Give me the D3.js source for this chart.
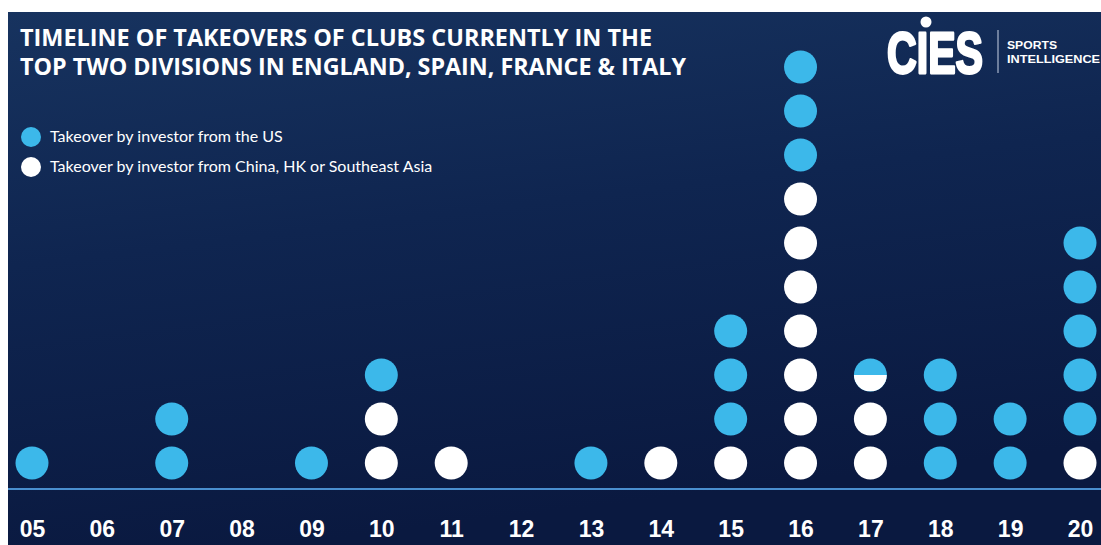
<!DOCTYPE html>
<html><head><meta charset="utf-8">
<script src="https://cdn.jsdelivr.net/npm/d3@7"></script>
<style>html,body{margin:0;padding:0;background:#fff;}svg{display:block;}</style>
</head><body>
<svg id="c" width="1101" height="545"></svg>
<script>
// ---- data ----
const years = ["05","06","07","08","09","10","11","12","13","14","15","16","17","18","19","20"];
const usCounts   = [1,0,2,0,1,1,0,0,1,0,3,3,0.5,3,2,5];
const asiaCounts = [0,0,0,0,0,2,1,0,0,1,1,7,2.5,0,0,1];
const legendLabels = ["Takeover by investor from the US","Takeover by investor from China, HK or Southeast Asia"];
const titleLines = ["TIMELINE OF TAKEOVERS OF CLUBS CURRENTLY IN THE","TOP TWO DIVISIONS IN ENGLAND, SPAIN, FRANCE & ITALY"];

const BLUE = "#3cb8ea", WHITE = "#ffffff";
const svg = d3.select("#c");
const W = 1101, H = 545;

const defs = svg.append("defs");
const g = defs.append("linearGradient").attr("id","bg").attr("x1",0).attr("y1",0).attr("x2",0.25).attr("y2",1);
g.append("stop").attr("offset","0%").attr("stop-color","#17335f");
g.append("stop").attr("offset","45%").attr("stop-color","#0f2550");
g.append("stop").attr("offset","100%").attr("stop-color","#0a1940");
svg.append("rect").attr("x",8).attr("y",12).attr("width",W-8).attr("height",H-12).attr("fill","url(#bg)");

// title
svg.selectAll("text.title").data(titleLines).join("text")
  .attr("class","title")
  .attr("x",20).attr("y",(d,i)=>46+i*29)
  .attr("fill","#fff")
  .attr("font-family","'Open Sans', sans-serif")
  .attr("font-weight",700)
  .attr("font-size",23)
  .attr("textLength",(d,i)=>i===0?632:666)
  .attr("lengthAdjust","spacingAndGlyphs")
  .text(d=>d);

// logo
const logo = svg.append("g");
logo.append("text").attr("transform","translate(887,73) scale(1,1.38)")
  .attr("x",0).attr("y",0).attr("fill","#fff")
  .attr("stroke","#fff").attr("stroke-width",2).attr("stroke-linejoin","round")
  .attr("font-family","'Liberation Sans',Arial,sans-serif")
  .attr("font-weight",700).attr("font-size",41)
  .attr("textLength",96).attr("lengthAdjust","spacingAndGlyphs").text("CIES");
logo.append("circle").attr("cx",926).attr("cy",22).attr("r",5.5).attr("fill","#fff");
logo.append("line").attr("x1",998).attr("x2",998).attr("y1",30).attr("y2",73)
  .attr("stroke","#c8d2e4").attr("stroke-width",1);
logo.selectAll("text.si").data(["SPORTS","INTELLIGENCE"]).join("text")
  .attr("class","si").attr("x",1007).attr("y",(d,i)=>49+i*14)
  .attr("fill","#fff").attr("font-family","'Liberation Sans',Arial,sans-serif").attr("font-weight",700)
  .attr("font-size",11)
  .attr("textLength",(d,i)=>i===0?50:93).attr("lengthAdjust","spacingAndGlyphs")
  .text(d=>d);

// legend
const leg = svg.append("g");
legendLabels.forEach((t,i)=>{
  leg.append("circle").attr("cx",31).attr("cy",137+i*30).attr("r",10).attr("fill",i===0?BLUE:WHITE);
  leg.append("text").attr("x",50).attr("y",142+i*30).attr("fill","#fff")
    .attr("font-family","Lato, sans-serif").attr("font-size",16).text(t);
});

// scales
const x = d3.scalePoint().domain(years).range([32,1080]);
const y = d3.scaleLinear().domain([0,1]).range([463,419]);
const R = 16.5;

// axis line
svg.append("line").attr("x1",8).attr("x2",W).attr("y1",489).attr("y2",489)
  .attr("stroke","#4a8fcf").attr("stroke-width",2);

// x labels via axis
const axis = d3.axisBottom(x).tickSize(0).tickPadding(0);
const ax = svg.append("g").attr("transform","translate(0,520)").call(axis);
ax.select(".domain").remove();
ax.selectAll("text").attr("fill","#fff").attr("font-family","'Liberation Sans', Arial, sans-serif")
  .attr("font-weight",700).attr("font-size",23).attr("dy","0.72em");

// dots
const slots = [];
years.forEach((yr,i)=>{
  const total = usCounts[i]+asiaCounts[i];
  const n = Math.ceil(total);
  for(let k=0;k<n;k++){
    const whiteFrac = Math.max(0,Math.min(1,asiaCounts[i]-k));
    slots.push({yr,k,whiteFrac});
  }
});
const dots = svg.append("g");
slots.forEach((s,j)=>{
  const cx = x(s.yr), cy = y(s.k);
  if(s.whiteFrac>=1){
    dots.append("circle").attr("cx",cx).attr("cy",cy).attr("r",R).attr("fill",WHITE);
  } else if(s.whiteFrac<=0){
    dots.append("circle").attr("cx",cx).attr("cy",cy).attr("r",R).attr("fill",BLUE);
  } else {
    const id="clip"+j;
    defs.append("clipPath").attr("id",id).append("rect")
      .attr("x",cx-R).attr("width",2*R)
      .attr("y",cy+R-2*R*s.whiteFrac).attr("height",2*R*s.whiteFrac);
    dots.append("circle").attr("cx",cx).attr("cy",cy).attr("r",R).attr("fill",BLUE);
    dots.append("circle").attr("cx",cx).attr("cy",cy).attr("r",R).attr("fill",WHITE).attr("clip-path",`url(#${id})`);
  }
});
</script>
</body></html>
